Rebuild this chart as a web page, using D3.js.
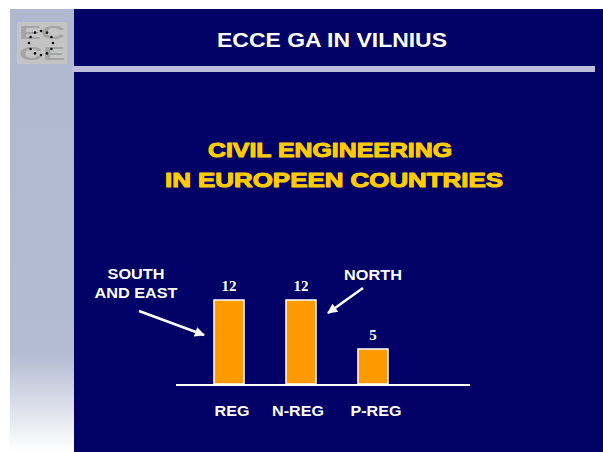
<!DOCTYPE html>
<html>
<head>
<meta charset="utf-8">
<script src="https://cdn.jsdelivr.net/npm/d3@7"></script>
<style>
  html, body { margin: 0; padding: 0; background: #fff; }
  svg { display: block; }
</style>
</head>
<body>
<script>
// chart data
const categories = ['REG', 'N-REG', 'P-REG']
const values = [12, 12, 5]
const titleText = 'ECCE GA IN VILNIUS'
const subtitleLines = ['CIVIL ENGINEERING', 'IN EUROPEEN COUNTRIES']
const noteSouth = ['SOUTH', 'AND EAST']
const noteNorth = ['NORTH']

const w = 603
const h = 452
const navy = '#000066'
const sans = 'Arial, Liberation Sans, sans-serif'

// stretch text sideways, the slide font renders wider than ours
function widen(sel, k) {
    sel.each(function () {
        const len = this.getComputedTextLength()
        d3.select(this)
            .attr('textLength', len * k)
            .attr('lengthAdjust', 'spacingAndGlyphs')
    })
}

const svg = d3.select('body')
    .append('svg')
    .attr('width', w)
    .attr('height', h)

// gradient for the left strip
const defs = svg.append('defs')
const grad = defs.append('linearGradient')
    .attr('id', 'strip')
    .attr('x1', 0).attr('y1', 0).attr('x2', 0).attr('y2', 1)
grad.append('stop').attr('offset', '0%').attr('stop-color', '#b0b8d0')
grad.append('stop').attr('offset', '78%').attr('stop-color', '#b4bcd3')
grad.append('stop').attr('offset', '100%').attr('stop-color', '#ffffff')

defs.append('marker')
    .attr('id', 'arrow')
    .attr('viewBox', '0 0 10 10')
    .attr('refX', 9).attr('refY', 5)
    .attr('markerWidth', 4.5).attr('markerHeight', 4)
    .attr('orient', 'auto')
    .append('path')
    .attr('d', 'M0,0 L10,5 L0,10 Z')
    .attr('fill', '#fff')

// slide background
svg.append('rect')
    .attr('x', 10).attr('y', 9)
    .attr('width', 64).attr('height', h - 9)
    .attr('fill', 'url(#strip)')

svg.append('rect')
    .attr('x', 74).attr('y', 9)
    .attr('width', w - 74).attr('height', h - 9)
    .attr('fill', navy)

// divider bar under header
svg.append('rect')
    .attr('x', 72).attr('y', 66)
    .attr('width', 523).attr('height', 6)
    .attr('fill', '#bcbcdc')

// logo
const logo = svg.append('g').attr('transform', 'translate(17,22)')
logo.append('rect')
    .attr('width', 50).attr('height', 42)
    .attr('fill', '#c4c4c4')
logo.selectAll('text')
    .data(['EC', 'CE'])
    .enter()
    .append('text')
    .attr('x', 25)
    .attr('y', (d, i) => 17 + i * 21)
    .attr('text-anchor', 'middle')
    .attr('font-family', sans)
    .attr('font-weight', 'bold')
    .attr('font-size', 18)
    .attr('fill', '#a4a4a4')
    .attr('textLength', 46)
    .attr('lengthAdjust', 'spacingAndGlyphs')
    .text(d => d)
logo.selectAll('circle.star')
    .data(d3.range(12))
    .enter()
    .append('circle')
    .attr('class', 'star')
    .attr('r', 1.3)
    .attr('cx', d => 24 + 12 * Math.cos(d / 12 * 2 * Math.PI))
    .attr('cy', d => 21 + 12 * Math.sin(d / 12 * 2 * Math.PI))
    .attr('fill', '#111')

// header title
svg.append('text')
    .attr('x', 332)
    .attr('y', 47)
    .attr('text-anchor', 'middle')
    .attr('font-family', sans)
    .attr('font-weight', 'bold')
    .attr('font-size', 20)
    .attr('fill', '#fff')
    .attr('textLength', 230)
    .attr('lengthAdjust', 'spacingAndGlyphs')
    .text(titleText)

// subtitle
const subWidths = [244, 338]
svg.selectAll('text.sub')
    .data(subtitleLines)
    .enter()
    .append('text')
    .attr('class', 'sub')
    .attr('x', (d, i) => i === 0 ? 330 : 334)
    .attr('y', (d, i) => 157 + i * 30)
    .attr('text-anchor', 'middle')
    .attr('font-family', sans)
    .attr('font-weight', 'bold')
    .attr('font-size', 21)
    .attr('fill', '#ffcc00')
    .attr('stroke', '#ffcc00')
    .attr('stroke-width', 1.1)
    .attr('stroke-linejoin', 'round')
    .attr('textLength', (d, i) => subWidths[i])
    .attr('lengthAdjust', 'spacingAndGlyphs')
    .text(d => d)

// scales
const baseY = 384
const xScale = d3.scaleBand()
    .domain(categories)
    .range([193, 409])
    .paddingInner(0.583)
    .paddingOuter(0.292)

const yScale = d3.scaleLinear()
    .domain([0, 12])
    .range([baseY, 300])

// bars
svg.selectAll('rect.bar')
    .data(values)
    .enter()
    .append('rect')
    .attr('class', 'bar')
    .attr('x', (d, i) => xScale(categories[i]))
    .attr('y', d => yScale(d))
    .attr('width', xScale.bandwidth())
    .attr('height', d => baseY - yScale(d))
    .attr('fill', '#ff9900')
    .attr('stroke', '#fff')
    .attr('stroke-width', 1.5)

// value labels
svg.selectAll('text.val')
    .data(values)
    .enter()
    .append('text')
    .attr('class', 'val')
    .attr('x', (d, i) => xScale(categories[i]) + xScale.bandwidth() / 2)
    .attr('y', d => yScale(d) - 9)
    .attr('text-anchor', 'middle')
    .attr('font-family', 'Times New Roman, Liberation Serif, serif')
    .attr('font-weight', 'bold')
    .attr('font-size', 15)
    .attr('fill', '#fff')
    .text(d => d)

// baseline axis
svg.append('line')
    .attr('x1', 176).attr('x2', 470)
    .attr('y1', baseY + 1).attr('y2', baseY + 1)
    .attr('stroke', '#fff')
    .attr('stroke-width', 2)

// category labels
const cats = svg.selectAll('text.cat')
    .data(categories)
    .enter()
    .append('text')
    .attr('class', 'cat')
    .attr('x', d => xScale(d) + xScale.bandwidth() / 2 + (d === 'N-REG' ? -3 : 3))
    .attr('y', 416)
    .attr('text-anchor', 'middle')
    .attr('font-family', sans)
    .attr('font-weight', 'bold')
    .attr('font-size', 14)
    .attr('fill', '#fff')
    .text(d => d)
widen(cats, 1.15)

// annotations
const noteText = svg.append('g')
    .attr('font-family', sans)
    .attr('font-weight', 'bold')
    .attr('font-size', 14)
    .attr('fill', '#fff')
    .attr('text-anchor', 'middle')

noteSouth.forEach((t, i) => {
    noteText.append('text').attr('x', 136).attr('y', 279 + i * 19).text(t)
})
noteNorth.forEach((t, i) => {
    noteText.append('text').attr('x', 373).attr('y', 280 + i * 19).text(t)
})
widen(noteText.selectAll('text'), 1.16)

svg.append('line')
    .attr('x1', 139).attr('y1', 311)
    .attr('x2', 204).attr('y2', 335)
    .attr('stroke', '#fff').attr('stroke-width', 2.5)
    .attr('marker-end', 'url(#arrow)')

svg.append('line')
    .attr('x1', 363).attr('y1', 288)
    .attr('x2', 328).attr('y2', 313)
    .attr('stroke', '#fff').attr('stroke-width', 2.5)
    .attr('marker-end', 'url(#arrow)')
</script>
</body>
</html>
